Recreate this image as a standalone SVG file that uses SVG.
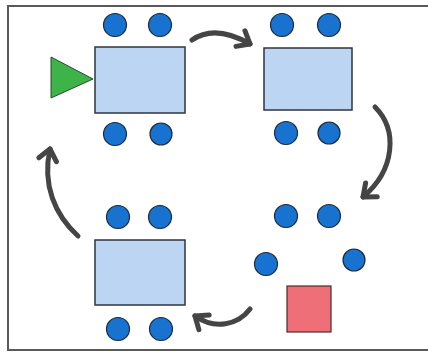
<svg xmlns="http://www.w3.org/2000/svg" width="428" height="354" viewBox="0 0 428 354">
<style>
.table{fill:#bcd5f3;stroke:#2e3640;stroke-width:1.5}
.chair{fill:#1872cf;stroke:#1f2a3a;stroke-width:1.2}
.arrow{fill:none;stroke:#454545;stroke-width:5;stroke-linecap:round;marker-end:url(#head)}
.frame{fill:none;stroke:#5a5a5a;stroke-width:2}
</style>
<defs>
<marker id="head" markerUnits="userSpaceOnUse" viewBox="-16 -14 20 28" refX="0" refY="0" markerWidth="20" markerHeight="28" orient="auto">
<path d="M-11,-9 L0,0 L-11,9" fill="none" stroke="#454545" stroke-width="5" stroke-linecap="round" stroke-linejoin="round"/>
</marker>
</defs>
<rect width="428" height="354" fill="#ffffff"/>
<path class="frame" d="M428,6 L8,6 L8,350 L428,350"/>
<g id="table1">
<rect class="table" x="95" y="47" width="90" height="66"/>
<circle class="chair" cx="115" cy="25" r="11.5"/>
<circle class="chair" cx="160" cy="25" r="11.5"/>
<circle class="chair" cx="115" cy="134" r="11.5"/>
<circle class="chair" cx="161" cy="134" r="11"/>
</g>
<g id="start">
<polygon points="51,57 51,98 93,79" fill="#3db34a" stroke="#2b4a2b" stroke-width="1"/>
</g>
<g id="table2">
<rect class="table" x="264" y="48" width="88" height="62"/>
<circle class="chair" cx="282" cy="25" r="11.5"/>
<circle class="chair" cx="329" cy="25" r="11.5"/>
<circle class="chair" cx="286" cy="133" r="11.5"/>
<circle class="chair" cx="329" cy="133" r="11"/>
</g>
<g id="table3">
<rect class="table" x="95" y="240" width="90" height="65"/>
<circle class="chair" cx="118" cy="217" r="11.5"/>
<circle class="chair" cx="160" cy="217" r="11.5"/>
<circle class="chair" cx="118" cy="329" r="11.5"/>
<circle class="chair" cx="161" cy="329" r="11.5"/>
</g>
<g id="group4">
<circle class="chair" cx="286" cy="216" r="11.5"/>
<circle class="chair" cx="329" cy="216" r="11.5"/>
<circle class="chair" cx="266" cy="264" r="11.5"/>
<circle class="chair" cx="354" cy="260" r="11"/>
</g>
<g id="end">
<rect x="287" y="286" width="44" height="46" fill="#ef6f78" stroke="#4a2a2a" stroke-width="1.2"/>
</g>
<g id="connectors">
<path class="arrow" d="M192,40 Q215,24 250,44"/>
<path class="arrow" d="M375,107 C398,130 395,170 363,197"/>
<path class="arrow" d="M250,309 C238,325 215,330 195,316"/>
<path class="arrow" d="M78,236 C55,215 42,185 50,149"/>
</g>
</svg>
